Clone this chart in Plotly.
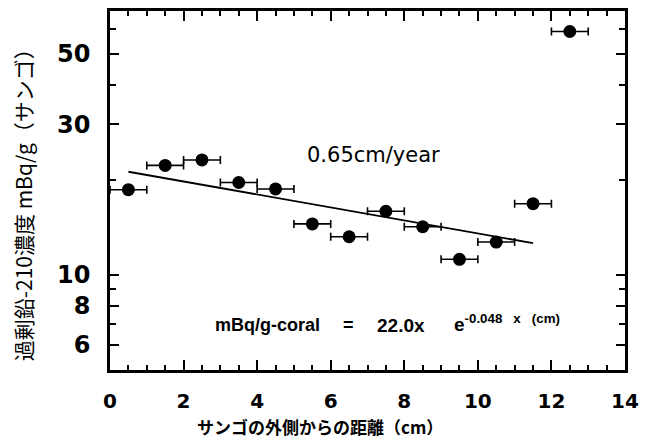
import plotly.graph_objects as go

# Data
distance_cm = [0.5, 1.5, 2.5, 3.5, 4.5, 5.5, 6.5, 7.5, 8.5, 9.5, 10.5, 11.5, 12.5]
pb210_mbq_g = [18.6, 22.2, 23.1, 19.6, 18.7, 14.5, 13.2, 15.9, 14.2, 11.2, 12.7, 16.8, 58.9]
x_err = [0.5] * len(distance_cm)

fit_x = [0.5, 11.5]
fit_y = [21.2, 12.6]

x_ticks = [0, 2, 4, 6, 8, 10, 12, 14]
y_ticks = [6, 8, 10, 30, 50]
y_minor = [7, 9, 20, 40, 60]

fig = go.Figure()

fig.add_trace(go.Scatter(
    x=fit_x, y=fit_y, mode="lines",
    line=dict(color="black", width=1.8), showlegend=False, hoverinfo="skip"))

fig.add_trace(go.Scatter(
    x=distance_cm, y=pb210_mbq_g, mode="markers",
    marker=dict(color="black", size=13),
    error_x=dict(type="data", array=x_err, color="black", thickness=1.6, width=4),
    showlegend=False))

fig.update_xaxes(
    range=[0, 14], tickvals=x_ticks, ticktext=[str(v) for v in x_ticks],
    ticks="inside", ticklen=10, tickwidth=2, tickcolor="black",
    minor=dict(dtick=0.5, ticks="inside", ticklen=5, tickwidth=2, tickcolor="black"),
    showline=True, linecolor="black", linewidth=2.5, mirror="allticks",
    showgrid=False, zeroline=False, ticklabelstandoff=11,
    tickfont=dict(family="DejaVu Sans", size=20, color="black", weight="bold"),
    automargin=False,
)

fig.update_yaxes(
    type="log", range=[0.699, 1.835], tickvals=y_ticks, ticktext=[str(v) for v in y_ticks],
    ticks="inside", ticklen=9, tickwidth=2, tickcolor="black",
    minor=dict(tickvals=y_minor, ticks="inside", ticklen=6, tickwidth=2, tickcolor="black"),
    showline=True, linecolor="black", linewidth=2.5, mirror="allticks",
    showgrid=False, zeroline=False, ticklabelstandoff=12,
    tickfont=dict(family="DejaVu Sans", size=24, color="black", weight="bold"),
    automargin=False,
)

# Axis titles
fig.add_annotation(x=0.408, y=-0.158, xref="paper", yref="paper", xanchor="center",
                   yanchor="middle", showarrow=False, text="サンゴの外側からの距離（cm）",
                   font=dict(family="Noto Sans CJK JP", size=17, color="black", weight="bold"))
fig.add_annotation(x=-0.17, y=0.474, xref="paper", yref="paper", xanchor="center",
                   yanchor="middle", showarrow=False, textangle=-90,
                   text="過剰鉛-210濃度 mBq/g（サンゴ）",
                   font=dict(family="Noto Sans CJK JP", size=21, color="black"))

fig.add_annotation(x=0.379, y=0.599, xref="paper", yref="paper", xanchor="left",
                   yanchor="middle", showarrow=False, text="0.65cm/year",
                   font=dict(family="DejaVu Sans", size=21, color="black"))

eq_font = dict(family="Liberation Sans, Arial", color="black", weight="bold")
fig.add_annotation(x=0.2, y=0.125, xref="paper", yref="paper", xanchor="left",
                   yanchor="middle", showarrow=False, text="mBq/g-coral",
                   font=dict(size=18, **eq_font))
fig.add_annotation(x=0.464, y=0.125, xref="paper", yref="paper", xanchor="center",
                   yanchor="middle", showarrow=False, text="=",
                   font=dict(size=18, **eq_font))
fig.add_annotation(x=0.515, y=0.125, xref="paper", yref="paper", xanchor="left",
                   yanchor="middle", showarrow=False, text="22.0x",
                   font=dict(size=19, **eq_font))
fig.add_annotation(x=0.664, y=0.13, xref="paper", yref="paper", xanchor="left",
                   yanchor="middle", showarrow=False,
                   text="e<sup>-0.048 &nbsp;&nbsp;x &nbsp;&nbsp;(cm)</sup>",
                   font=dict(size=19, **eq_font))

fig.update_layout(
    width=651, height=431,
    margin=dict(l=102, r=34, t=3, b=69),
    paper_bgcolor="white", plot_bgcolor="white",
)

fig.write_html("out.html")
